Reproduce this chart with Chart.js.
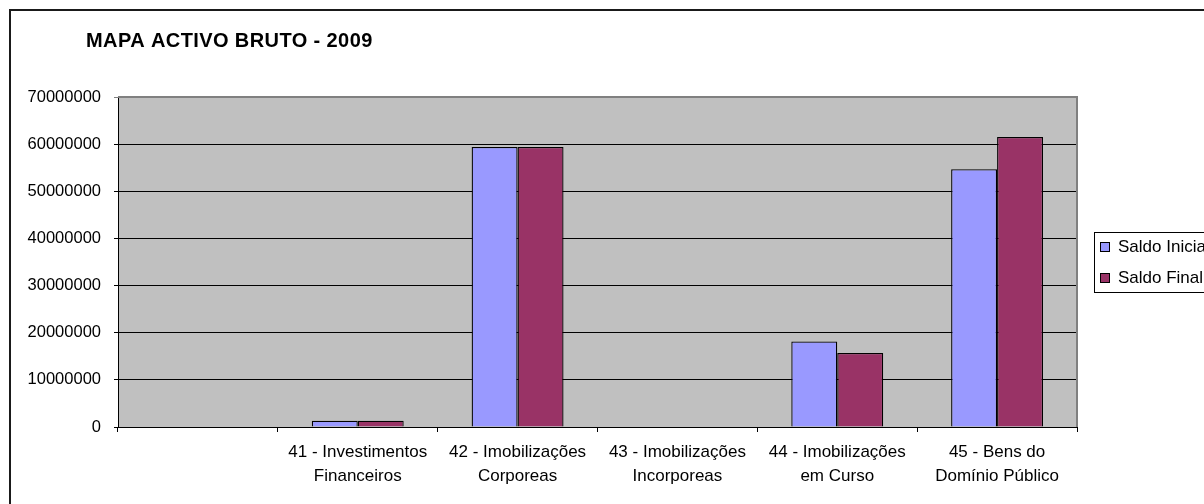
<!DOCTYPE html>
<html>
<head>
<meta charset="utf-8">
<script src="https://cdn.jsdelivr.net/npm/chart.js@4/dist/chart.umd.min.js"></script>
<style>
  html, body { margin: 0; padding: 0; background: #fff; overflow: hidden; }
  #wrap { width: 1204px; height: 504px; position: relative; }
</style>
</head>
<body>
<div id="wrap"><canvas id="c" width="1204" height="504"></canvas></div>
<script>
// Categorias (a primeira fica vazia) e valores em euros
const categories = [
  '',
  ['41 - Investimentos', 'Financeiros'],
  ['42 - Imobilizações', 'Corporeas'],
  ['43 - Imobilizações', 'Incorporeas'],
  ['44 - Imobilizações', 'em Curso'],
  ['45 - Bens do', 'Domínio Público']
];
const saldoInicial = [null, 1340000, 59400000, 0, 18150000, 54700000];
const saldoFinal   = [null, 1340000, 59400000, 0, 15700000, 61500000];
const yTicks = [0, 10000000, 20000000, 30000000, 40000000, 50000000, 60000000, 70000000];

const FONT = "'Liberation Sans', Arial, sans-serif";

// Fundo cinzento da área de desenho, moldura exterior, título e legenda
const frame = {
  id: 'frame',
  beforeDraw(chart) {
    const { ctx, chartArea: a } = chart;
    ctx.save();
    ctx.fillStyle = '#C0C0C0';
    ctx.fillRect(a.left, a.top, a.right - a.left, a.bottom - a.top);
    ctx.restore();
  },
  afterDraw(chart) {
    const { ctx, chartArea: a } = chart;
    ctx.save();
    // contorno superior e direito da área de desenho
    ctx.strokeStyle = '#808080';
    ctx.lineWidth = 2;
    ctx.beginPath();
    ctx.moveTo(a.left, a.top);
    ctx.lineTo(a.right, a.top);
    ctx.lineTo(a.right, a.bottom);
    ctx.stroke();

    // moldura exterior do gráfico
    ctx.strokeStyle = '#1a1a1a';
    ctx.lineWidth = 2;
    ctx.strokeRect(10, 10, 1260, 560);

    // título
    ctx.fillStyle = '#000';
    ctx.font = 'bold 20px ' + FONT;
    if ('letterSpacing' in ctx) ctx.letterSpacing = '0.4px';
    ctx.textBaseline = 'alphabetic';
    ctx.textAlign = 'left';
    ctx.fillText('MAPA ACTIVO BRUTO - 2009', 86, 46.5);
    if ('letterSpacing' in ctx) ctx.letterSpacing = '0px';

    // legenda
    const lx = 1094, ly = 232, lh = 60;
    ctx.fillStyle = '#fff';
    ctx.fillRect(lx, ly, 200, lh);
    ctx.strokeStyle = '#000';
    ctx.lineWidth = 1;
    ctx.strokeRect(lx + 0.5, ly + 0.5, 200, lh);
    ctx.font = '17px ' + FONT;
    ctx.textBaseline = 'middle';
    chart.data.datasets.forEach((ds, i) => {
      const cy = ly + 15 + i * 31;
      ctx.fillStyle = ds.backgroundColor;
      ctx.fillRect(1100, cy - 5, 10, 10);
      ctx.strokeStyle = '#000';
      ctx.strokeRect(1100.5, cy - 4.5, 9, 9);
      ctx.fillStyle = '#000';
      ctx.fillText(ds.label, 1118, cy);
    });
    ctx.restore();
  }
};

new Chart(document.getElementById('c'), {
  type: 'bar',
  data: {
    labels: categories,
    datasets: [
      { label: 'Saldo Inicial', data: saldoInicial, backgroundColor: '#9999FF', borderColor: '#000', borderWidth: 1.3 },
      { label: 'Saldo Final', data: saldoFinal, backgroundColor: '#993366', borderColor: '#000', borderWidth: 1.3 }
    ]
  },
  options: {
    responsive: false,
    animation: false,
    devicePixelRatio: 1,
    layout: { padding: { top: 97, right: 127, left: 0, bottom: 0 } },
    datasets: { bar: { categoryPercentage: 0.575, barPercentage: 1 } },
    plugins: { legend: { display: false }, title: { display: false }, tooltip: { enabled: false } },
    scales: {
      x: {
        offset: true,
        grid: { offset: true, drawOnChartArea: false, drawTicks: true, tickLength: 5, color: '#000' },
        border: { color: '#000', width: 1 },
        ticks: { color: '#000', font: { family: FONT, size: 17, lineHeight: 1.42 }, padding: 8, maxRotation: 0, autoSkip: false },
        afterFit(s) { s.height = 77; }
      },
      y: {
        min: 0,
        max: 70000000,
        afterBuildTicks(s) { s.ticks = yTicks.map(v => ({ value: v })); },
        grid: {
          color: c => (c.tick && c.tick.value === 70000000 ? '#808080' : '#000'),
          drawTicks: true,
          tickLength: 4
        },
        border: { color: '#000', width: 1 },
        ticks: { color: '#000', font: { family: FONT, size: 16.5 }, padding: 13, callback: v => String(v) },
        afterFit(s) { s.width = 118; }
      }
    }
  },
  plugins: [frame]
});
</script>
</body>
</html>
